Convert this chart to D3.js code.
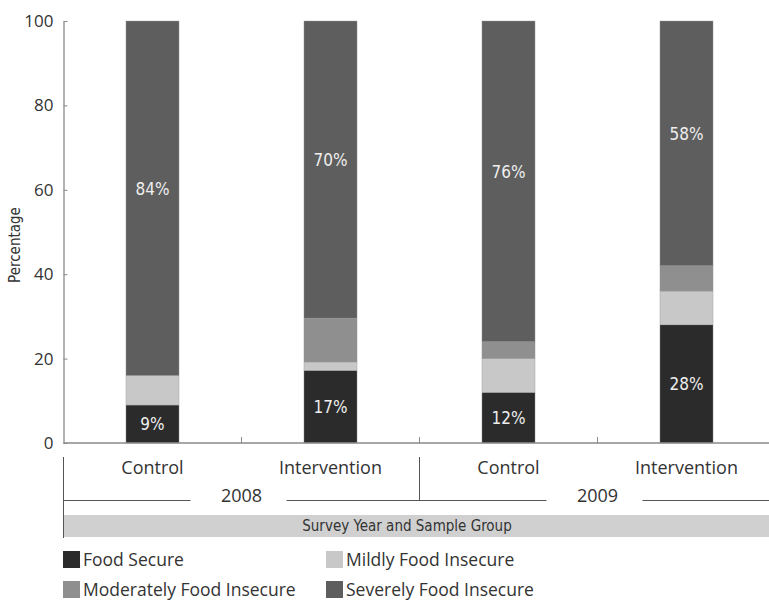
<!DOCTYPE html>
<html><head><meta charset="utf-8">
<script src="https://cdn.jsdelivr.net/npm/d3@7"></script>
<style>
body{margin:0;background:#fff;}
svg{display:block;}
.cond{font-family:"Liberation Sans Narrow","DejaVu Sans Condensed","Arial Narrow",sans-serif;}
.reg{font-family:"Open Sans","Noto Sans",sans-serif;}
</style></head>
<body>
<script>
const groups = ["Control 2008","Intervention 2008","Control 2009","Intervention 2009"];
const sampleLabels = ["Control","Intervention","Control","Intervention"];
const years = ["2008","2009"];
const seriesNames = ["Food Secure","Mildly Food Insecure","Moderately Food Insecure","Severely Food Insecure"];
const foodSecure = [9, 17.2, 12, 28];
const mildlyInsecure = [7, 2, 8, 8];
const moderatelyInsecure = [0, 10.4, 4, 6];
const severelyInsecure = [84, 70.4, 76, 58];
const yTicks = [0, 20, 40, 60, 80, 100];
const colors = ["#2b2b2b", "#c8c8c8", "#8f8f8f", "#5e5e5e"];

const W = 769, H = 604;
const svg = d3.select("body").append("svg").attr("width", W).attr("height", H);

const x = d3.scaleBand().domain(groups).range([63.5, 775.5]).paddingInner(0.702).paddingOuter(0.351);
const y = d3.scaleLinear().domain([0, 100]).range([443, 21]);
const color = d3.scaleOrdinal().domain(seriesNames).range(colors);

const rows = groups.map((g, i) => ({
  group: g,
  "Food Secure": foodSecure[i],
  "Mildly Food Insecure": mildlyInsecure[i],
  "Moderately Food Insecure": moderatelyInsecure[i],
  "Severely Food Insecure": severelyInsecure[i]
}));
const stacked = d3.stack().keys(seriesNames)(rows);

// bars
const layers = svg.append("g").selectAll("g").data(stacked).join("g")
  .attr("fill", d => color(d.key));
layers.selectAll("rect").data(d => d.map(v => ({v, key: d.key}))).join("rect")
  .attr("x", d => x(d.v.data.group))
  .attr("width", x.bandwidth())
  .attr("y", d => y(d.v[1]))
  .attr("height", d => Math.max(0, y(d.v[0]) - y(d.v[1])))
  .attr("stroke", "#9a9a9a").attr("stroke-width", 0.4);

// value labels
const labelled = [stacked[0], stacked[3]];
labelled.forEach((layer, li) => {
  svg.append("g").selectAll("text").data(layer).join("text")
    .attr("class", "cond")
    .attr("x", d => x(d.data.group) + x.bandwidth() / 2)
    .attr("y", d => (y(d[0]) + y(d[1])) / 2 - (li === 1 ? 9 : 0))
    .attr("dy", "0.35em")
    .attr("text-anchor", "middle")
    .attr("fill", "#eeeeee")
    .attr("font-size", 17)
    .text(d => Math.round(d[1] - d[0]) + "%");
});

// y axis
const yAxis = d3.axisLeft(y).tickValues(yTicks).tickSizeInner(-4).tickSizeOuter(0).tickPadding(10);
const ya = svg.append("g").attr("transform", "translate(63.5,0)").call(yAxis);
ya.select(".domain").attr("stroke", "#8a8a8a").attr("stroke-width", 1.3);
ya.selectAll(".tick line").attr("stroke", "#8a8a8a");
ya.selectAll("text").attr("class", "reg").attr("font-size", 17).attr("fill", "#333");

svg.append("text").attr("class", "cond")
  .attr("transform", "translate(20,245) rotate(-90)")
  .attr("text-anchor", "middle").attr("font-size", 15).attr("fill", "#333")
  .text("Percentage");

// x axis baseline with boundary ticks
const step = x.step();
const x0 = x.range()[0];
svg.append("line").attr("x1", x0).attr("x2", W).attr("y1", y(0)).attr("y2", y(0))
  .attr("stroke", "#8a8a8a").attr("stroke-width", 1.3);
svg.append("g").selectAll("line").data(groups.slice(1)).join("line")
  .attr("x1", d => x(d) - (x.step() - x.bandwidth()) / 2)
  .attr("x2", d => x(d) - (x.step() - x.bandwidth()) / 2)
  .attr("y1", y(0)).attr("y2", y(0) - 6)
  .attr("stroke", "#8a8a8a");

// category labels
svg.append("g").selectAll("text").data(groups).join("text")
  .attr("class", "reg")
  .attr("x", d => x(d) + x.bandwidth() / 2)
  .attr("y", 474)
  .attr("text-anchor", "middle").attr("font-size", 18).attr("fill", "#333")
  .text((d, i) => sampleLabels[i]);

// group separators
const gLine = "#555";
svg.append("line").attr("x1", x0).attr("x2", x0).attr("y1", 457).attr("y2", 538).attr("stroke", gLine);
const mid = x0 + 2 * step;
svg.append("line").attr("x1", mid).attr("x2", mid).attr("y1", 457).attr("y2", 501).attr("stroke", gLine);

years.forEach((yr, i) => {
  const left = x0 + i * 2 * step, right = left + 2 * step, c = left + step;
  svg.append("line").attr("x1", left).attr("x2", c - 51).attr("y1", 500.5).attr("y2", 500.5).attr("stroke", gLine);
  svg.append("line").attr("x1", c + 45).attr("x2", Math.min(right, W)).attr("y1", 500.5).attr("y2", 500.5).attr("stroke", gLine);
  svg.append("text").attr("class", "reg").attr("x", c).attr("y", 502)
    .attr("text-anchor", "middle").attr("font-size", 18).attr("fill", "#333").text(yr);
});

// axis title band
svg.append("rect").attr("x", x0 + 0.5).attr("y", 515).attr("width", W - x0).attr("height", 22).attr("fill", "#d0d0d0");
svg.append("text").attr("class", "cond").attr("x", 407).attr("y", 531)
  .attr("text-anchor", "middle").attr("font-size", 15).attr("fill", "#333")
  .text("Survey Year and Sample Group");

// legend
const legPos = [[63, 551], [326, 551], [63, 581], [326, 581]];
const leg = svg.append("g").selectAll("g").data(seriesNames).join("g")
  .attr("transform", (d, i) => `translate(${legPos[i][0]},${legPos[i][1]})`);
leg.append("rect").attr("width", 17).attr("height", 17).attr("fill", d => color(d));
leg.append("text").attr("class", "reg").attr("x", 20).attr("y", 15)
  .attr("font-size", 17.5).attr("fill", "#333").text(d => d);
</script>
</body></html>
